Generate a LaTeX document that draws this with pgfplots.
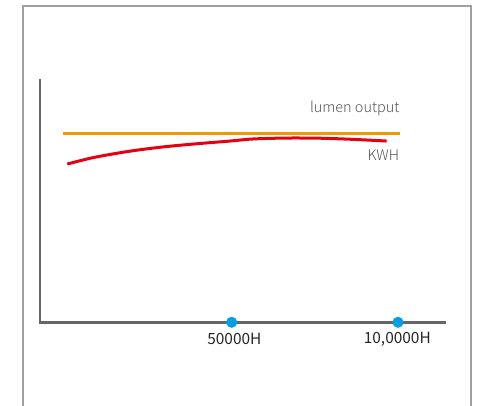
\documentclass[border=0pt]{standalone}
\usepackage{pgfplots}
\pgfplotsset{compat=1.18}
\usepackage{fontspec}
\setmainfont{Noto Sans CJK SC}
\newfontfamily\lightfont{Noto Sans CJK SC Light}

\definecolor{lumOrange}{HTML}{F39800}
\definecolor{kwhRed}{HTML}{E60012}
\definecolor{dotBlue}{HTML}{00A0E9}
\definecolor{axGray}{HTML}{666666}
\definecolor{frameGray}{HTML}{A0A0A0}
\definecolor{txtGray}{HTML}{555555}

\begin{document}
\begin{tikzpicture}
\begin{axis}[
  scale only axis,
  width=484bp, height=406bp,
  xmin=-19660, xmax=125860,
  ymin=-44.4, ymax=170.9,
  hide axis,
]

% keep the whole canvas as the bounding box
\path (rel axis cs:0,0) rectangle (rel axis cs:1,1);

% outer frame (runs off the bottom)
\addplot[frameGray, line width=1.4bp, forget plot]
  coordinates {(-12748,-44.4) (-12748,167.7) (121950,167.7) (121950,-44.4)};

% axes
\addplot[axGray, line width=2.8bp, line join=miter, forget plot]
  coordinates {(-7637,129) (-7637,0) (114431,0)};

% lumen output
\addplot[lumOrange, line width=3bp] coordinates {(-700,100) (100600,100)};

% KWH
\addplot[kwhRed, line width=3bp, smooth, tension=0.5] coordinates {
  (571,83.9) (8298,87.3) (18521,90.5) (28442,92.8) (38364,94.5)
  (49489,96.1) (56405,97.2) (66627,97.7) (76549,97.6) (86471,97.0)
  (96604,96.1)
};

% hour markers
\addplot[only marks, mark=*, mark size=5.3bp, dotBlue, mark options={draw=dotBlue, fill=dotBlue}]
  coordinates {(50000,0) (100000,0)};

\node[anchor=east, font=\lightfont\fontsize{14.5}{16}\selectfont, text=txtGray]
  at (axis cs:101500,113.5) {lumen output};
\node[anchor=east, font=\lightfont\fontsize{14.5}{16}\selectfont, text=txtGray]
  at (axis cs:101400,88.5) {KWH};
\node[font=\fontsize{15.5}{17}\selectfont, text=black!85]
  at (axis cs:50800,-8.8) {50000H};
\node[font=\fontsize{15.5}{17}\selectfont, text=black!85]
  at (axis cs:99800,-8.8) {10,0000H};

\end{axis}
\end{tikzpicture}
\end{document}
